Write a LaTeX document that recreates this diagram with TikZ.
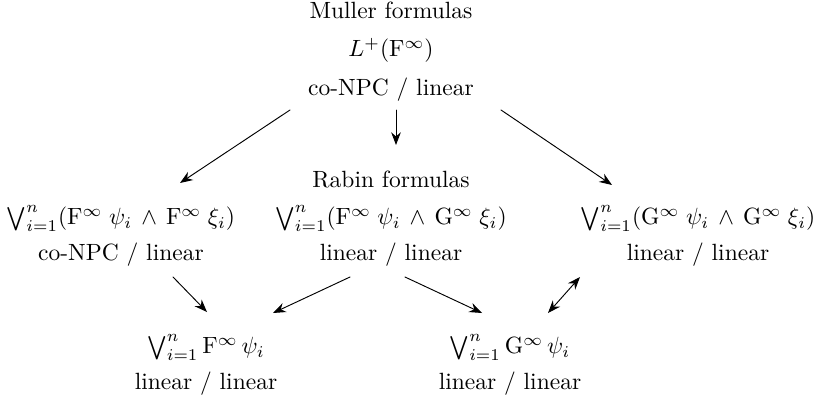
\documentclass[tikz,border=0pt]{standalone}
\usepackage{amsmath,amssymb}
\usepackage{tikz}
\usetikzlibrary{arrows.meta,calc,positioning}
\newcommand{\Finf}{\mathrm{F}^{\infty}}
\newcommand{\Ginf}{\mathrm{G}^{\infty}}

\begin{document}
\begin{tikzpicture}[>={Stealth[length=5.4pt,width=4.1pt]},line cap=round,line join=round,
  x=0.4255pt,y=-0.4255pt,
  cls/.style={align=center,anchor=base,inner sep=0pt},
  arr/.style={->}]
\useasboundingbox (0,0) rectangle (818,401);
\node[cls] (muller) at (391,95) {Muller formulas\\[4.2pt] $L^{+}(\Finf)$\\[4.2pt] co-NPC / linear};
\node[cls] (rabin) at (391,187) {Rabin formulas};
\node[cls] (ff) at (121,260) {$\bigvee_{i=1}^{n}(\Finf\;\psi_i\,\wedge\,\Finf\;\xi_i)$\\[3pt] co-NPC / linear};
\node[cls] (fg) at (391,260) {$\bigvee_{i=1}^{n}(\Finf\;\psi_i\,\wedge\,\Ginf\;\xi_i)$\\[3pt] linear / linear};
\node[cls] (gg) at (698,260) {$\bigvee_{i=1}^{n}(\Ginf\;\psi_i\,\wedge\,\Ginf\;\xi_i)$\\[3pt] linear / linear};
\node[cls] (f) at (206,389) {$\bigvee_{i=1}^{n}\Finf\,\psi_i$\\[3pt] linear / linear};
\node[cls] (g) at (510,389) {$\bigvee_{i=1}^{n}\Ginf\,\psi_i$\\[3pt] linear / linear};
% Muller to the three Rabin-type classes
\draw[arr] ($(muller.base)+(-101,15)$) -- ($(ff.base)+(59,-77)$);
\draw[arr] ($(muller.base)+(5,15)$) -- ($(rabin.base)+(5,-42)$);
\draw[arr] ($(muller.base)+(110,15)$) -- ($(gg.base)+(-86,-75)$);
% down to the bottom row
\draw[arr] ($(ff.base)+(52,17)$) -- ($(f.base)+(1,-77)$);
\draw[arr] ($(fg.base)+(-41,17)$) -- ($(f.base)+(67,-76)$);
\draw[arr] ($(fg.base)+(14,17)$) -- ($(g.base)+(-28,-76)$);
\draw[<->] ($(gg.base)+(-118,17)$) -- ($(g.base)+(38,-76)$);
\end{tikzpicture}
\end{document}
